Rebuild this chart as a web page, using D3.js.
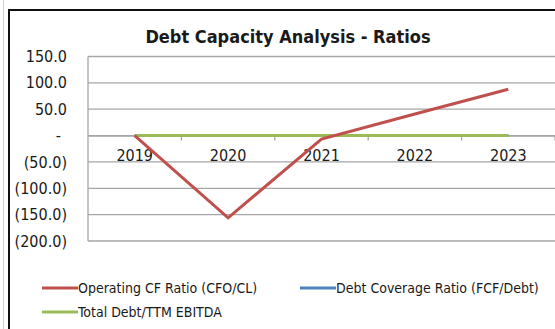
<!DOCTYPE html>
<html>
<head>
<meta charset="utf-8">
<script src="https://cdn.jsdelivr.net/npm/d3@7"></script>
<style>
  html, body { margin: 0; padding: 0; background: #fff; }
  svg { display: block; }
  text { font-family: Tahoma, "DejaVu Sans Condensed", "Liberation Sans", sans-serif; fill: #1a1a1a; }
</style>
</head>
<body>
<svg id="chart" width="555" height="329"></svg>
<script>
// Chart data
const years = ['2019', '2020', '2021', '2022', '2023'];
const operatingCF = [0, -156, -6.5, 41, 88];
const debtCoverage = [0, 0, 0, 0, 0];
const debtToEbitda = [0, 0, 0, 0, 0];
const yTicks = [-200, -150, -100, -50, 0, 50, 100, 150];
const yTickLabels = ['(200.0)', '(150.0)', '(100.0)', '(50.0)', '-', '50.0', '100.0', '150.0'];

const series = [
  { name: 'Debt Coverage Ratio (FCF/Debt)', values: debtCoverage, color: '#4f81bd' },
  { name: 'Total Debt/TTM EBITDA', values: debtToEbitda, color: '#9bbb59' },
  { name: 'Operating CF Ratio (CFO/CL)', values: operatingCF, color: '#c0504d' }
];

const svg = d3.select('#chart');

// Outer frame
svg.append('line')
  .attr('x1', 3.5).attr('x2', 3.5).attr('y1', 0).attr('y2', 329)
  .attr('stroke', '#d0d0d0').attr('stroke-width', 1);
svg.append('rect')
  .attr('x', 9).attr('y', 10).attr('width', 560).attr('height', 340)
  .attr('fill', '#fff').attr('stroke', '#111').attr('stroke-width', 2);

// Scales
const x = d3.scaleBand().domain(years).range([88, 555]);
const y = d3.scaleLinear().domain([-200, 150]).range([241, 56.5]);
const xc = d => x(d) + x.bandwidth() / 2;

// Grid lines
svg.append('g')
  .attr('class', 'grid')
  .selectAll('line')
  .data(yTicks)
  .join('line')
  .attr('x1', 88).attr('x2', 555)
  .attr('y1', d => y(d)).attr('y2', d => y(d))
  .attr('stroke', '#a6a6a6').attr('stroke-width', 1.3);

// Y axis
const yAxis = d3.axisLeft(y)
  .tickValues(yTicks)
  .tickSize(0)
  .tickPadding(0)
  .tickFormat((d, i) => yTickLabels[i]);

const yG = svg.append('g')
  .attr('transform', 'translate(67,0)')
  .call(yAxis);
yG.select('.domain').remove();
yG.selectAll('text')
  .style('font-size', '16px')
  .attr('dx', d => d === 0 ? -6 : 0);

svg.append('line')
  .attr('x1', 88).attr('x2', 88).attr('y1', 56.5).attr('y2', 241)
  .attr('stroke', '#a6a6a6').attr('stroke-width', 1.3);

// X axis on the zero line
const xAxis = d3.axisBottom(x).tickSize(0).tickPadding(14);
const xG = svg.append('g')
  .attr('transform', `translate(0,${y(0)})`)
  .call(xAxis);
xG.select('.domain').attr('stroke', '#a6a6a6').attr('stroke-width', 1.3);
xG.selectAll('text').style('font-size', '16px');

svg.append('g')
  .selectAll('line')
  .data(years)
  .join('line')
  .attr('x1', d => x(d) + x.bandwidth()).attr('x2', d => x(d) + x.bandwidth())
  .attr('y1', y(0)).attr('y2', y(0) + 5)
  .attr('stroke', '#a6a6a6').attr('stroke-width', 1.3);

// Lines
const line = d3.line()
  .x((d, i) => xc(years[i]))
  .y(d => y(d));

svg.append('g')
  .selectAll('path')
  .data(series)
  .join('path')
  .attr('d', d => line(d.values))
  .attr('fill', 'none')
  .attr('stroke', d => d.color)
  .attr('stroke-width', 3);

// Title
svg.append('text')
  .attr('x', 288).attr('y', 43)
  .attr('text-anchor', 'middle')
  .style('font-size', '18px')
  .style('font-weight', 'bold')
  .text('Debt Capacity Analysis - Ratios');

// Legend
const legendItems = [
  { name: 'Operating CF Ratio (CFO/CL)', color: '#c0504d', x: 42, y: 288 },
  { name: 'Debt Coverage Ratio (FCF/Debt)', color: '#4f81bd', x: 300, y: 288 },
  { name: 'Total Debt/TTM EBITDA', color: '#9bbb59', x: 42, y: 312 }
];

const legend = svg.append('g')
  .selectAll('g')
  .data(legendItems)
  .join('g')
  .attr('transform', d => `translate(${d.x},${d.y})`);

legend.append('line')
  .attr('x1', 0).attr('x2', 36)
  .attr('stroke', d => d.color).attr('stroke-width', 3);

legend.append('text')
  .attr('x', 36).attr('dy', '0.35em')
  .style('font-size', '14px')
  .text(d => d.name);
</script>
</body>
</html>
